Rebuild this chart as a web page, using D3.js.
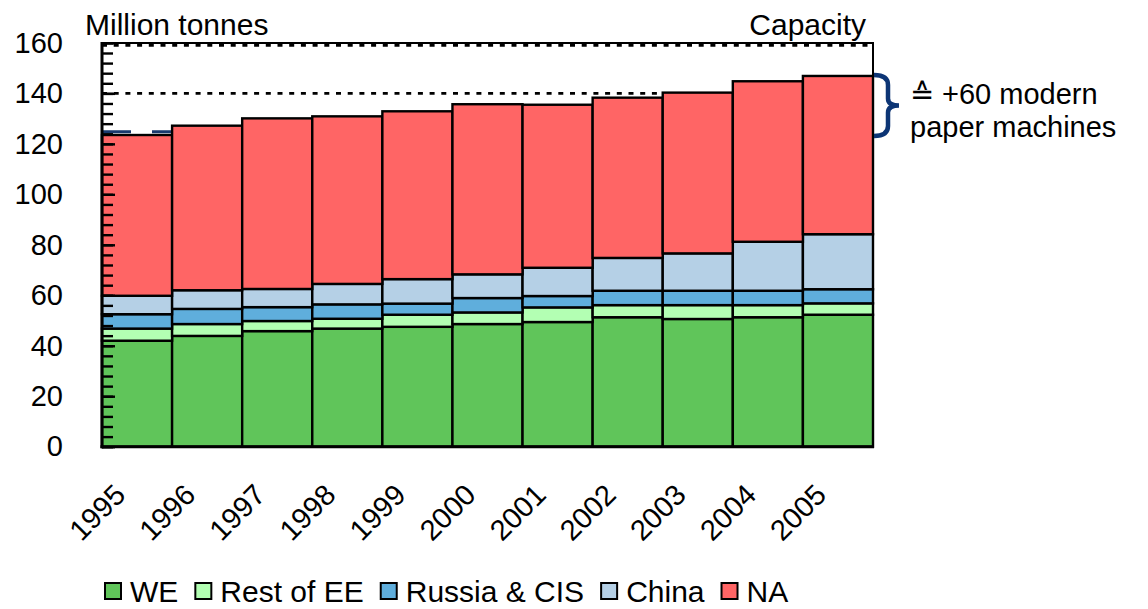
<!DOCTYPE html>
<html>
<head>
<meta charset="utf-8">
<script src="https://cdn.jsdelivr.net/npm/d3@7"></script>
<style>
  html, body { margin: 0; padding: 0; background: #fff; }
  svg { display: block; font-family: "Liberation Sans", Arial, sans-serif; }
</style>
</head>
<body>
<svg id="chart" width="1148" height="609"></svg>
<script>
// Paper capacity by region, million tonnes
const years = ["1995","1996","1997","1998","1999","2000","2001","2002","2003","2004","2005"];
const regions = ["WE", "Rest of EE", "Russia & CIS", "China", "NA"];
const WE        = [42.0, 43.9, 45.8, 46.8, 47.5, 48.6, 49.4, 51.3, 50.6, 51.3, 52.3];
const restOfEE  = [ 4.8,  4.7,  4.0,  3.9,  4.8,  4.6,  5.8,  4.8,  5.5,  4.8,  4.5];
const russiaCIS = [ 5.7,  6.0,  5.5,  5.7,  4.4,  5.7,  4.5,  5.7,  5.7,  5.7,  5.6];
const china     = [ 7.3,  7.4,  7.2,  8.1,  9.7,  9.4, 11.2, 13.0, 14.8, 19.4, 21.8];
const NA        = [63.7, 65.2, 67.6, 66.4, 66.5, 67.4, 64.6, 63.5, 63.7, 63.6, 62.7];
const yTicks = [0, 20, 40, 60, 80, 100, 120, 140, 160];
const capacityLine1995 = 124.8;
const annotationLines = ["\u2259 +60 modern", "paper machines"];

const colors = ["#60c55a", "#b3ffb3", "#5faedc", "#b5d0e6", "#ff6565"];

const rows = years.map((yr, i) => ({
  year: yr,
  "WE": WE[i], "Rest of EE": restOfEE[i], "Russia & CIS": russiaCIS[i],
  "China": china[i], "NA": NA[i]
}));

const svg = d3.select("#chart");
const plotLeft = 102, plotRight = 873, plotTop = 42.9, plotBottom = 446.7;

const x = d3.scaleBand().domain(years).range([plotLeft, plotRight]).padding(0);
const y = d3.scaleLinear().domain([0, 160]).range([plotBottom, plotTop]);
const color = d3.scaleOrdinal().domain(regions).range(colors);

// dotted gridlines (hidden behind the bars except at the top)
svg.append("g").selectAll("line")
  .data(yTicks.filter(d => d > 0))
  .join("line")
  .attr("x1", plotLeft).attr("x2", plotRight)
  .attr("y1", d => y(d) + (d === 160 ? 2.5 : 0))
  .attr("y2", d => y(d) + (d === 160 ? 2.5 : 0))
  .attr("stroke", "#000").attr("stroke-width", 2.7)
  .attr("stroke-dasharray", "5 6.7");

// 1995 capacity reference line
svg.append("line")
  .attr("x1", plotLeft).attr("x2", plotRight)
  .attr("y1", y(capacityLine1995)).attr("y2", y(capacityLine1995))
  .attr("stroke", "#1a3a6e").attr("stroke-width", 3)
  .attr("stroke-dasharray", "29 21");

// stacked bars
const stacked = d3.stack().keys(regions)(rows);
svg.append("g").selectAll("g")
  .data(stacked)
  .join("g")
  .attr("fill", d => color(d.key))
  .selectAll("rect")
  .data(d => d)
  .join("rect")
  .attr("x", d => x(d.data.year))
  .attr("width", x.bandwidth())
  .attr("y", d => y(d[1]))
  .attr("height", d => y(d[0]) - y(d[1]))
  .attr("stroke", "#000")
  .attr("stroke-width", 2.4);

// frame
svg.append("path")
  .attr("d", `M${plotLeft},${plotTop}H${plotRight}V${plotBottom}`)
  .attr("fill", "none").attr("stroke", "#000").attr("stroke-width", 2);

// y axis: minor ticks, then major ticks with labels
const minorTicks = d3.range(0, 161, 4);
svg.append("g")
  .attr("transform", `translate(${plotLeft},0)`)
  .call(d3.axisLeft(y).tickValues(minorTicks).tickSize(-11).tickFormat(""))
  .call(g => g.select(".domain").remove())
  .call(g => g.selectAll("line").attr("stroke-width", 2.4));

const yAxis = svg.append("g")
  .attr("transform", `translate(${plotLeft},0)`)
  .call(d3.axisLeft(y).tickValues(yTicks).tickSize(-13).tickPadding(39).tickFormat(d3.format("d")));
yAxis.select(".domain").remove();
yAxis.selectAll("line").attr("stroke-width", 2.4);
yAxis.selectAll("text")
  .attr("font-size", 29)
  .attr("font-family", "Liberation Sans, Arial, sans-serif")
  .attr("fill", "#000");

// axis lines
svg.append("line").attr("x1", plotLeft).attr("x2", plotLeft).attr("y1", plotTop - 1).attr("y2", plotBottom + 1.5)
  .attr("stroke", "#000").attr("stroke-width", 3);
svg.append("line").attr("x1", plotLeft - 1.5).attr("x2", plotRight + 1).attr("y1", plotBottom).attr("y2", plotBottom)
  .attr("stroke", "#000").attr("stroke-width", 3);

// x labels, rotated
svg.append("g").selectAll("text")
  .data(years)
  .join("text")
  .attr("transform", d => `translate(${x(d) + x.bandwidth() / 2 - 10},${plotBottom + 50}) rotate(-45)`)
  .attr("text-anchor", "end")
  .attr("font-size", 29)
  .text(d => d);

// titles
svg.append("text").attr("x", 85).attr("y", 35).attr("font-size", 30).text("Million tonnes");
svg.append("text").attr("x", 866).attr("y", 35).attr("text-anchor", "end").attr("font-size", 30).text("Capacity");

// brace from 1995 capacity to 2005 capacity
const total = i => WE[i] + restOfEE[i] + russiaCIS[i] + china[i] + NA[i];
const bTop = y(total(years.length - 1)) - 1, bBot = y(total(0)) + 1;
const bMid = (bTop + bBot) / 2;
const bx0 = plotRight + 1, bx1 = plotRight + 15, bx2 = plotRight + 26;
svg.append("path")
  .attr("d", `M${bx0},${bTop} Q${bx1},${bTop} ${bx1},${bTop + 10} L${bx1},${bMid - 7} Q${bx1},${bMid} ${bx2},${bMid}
              Q${bx1},${bMid} ${bx1},${bMid + 7} L${bx1},${bBot - 10} Q${bx1},${bBot} ${bx0},${bBot}`)
  .attr("fill", "none").attr("stroke", "#0d3575").attr("stroke-width", 4.5);

svg.append("g").selectAll("text")
  .data(annotationLines)
  .join("text")
  .attr("x", 910)
  .attr("y", (d, i) => 104 + i * 33)
  .attr("font-size", 29)
  .text(d => d);

// legend
const legend = svg.append("g").attr("transform", "translate(104,0)");
let lx = 0;
regions.forEach((r, i) => {
  legend.append("rect")
    .attr("x", lx + 1).attr("y", 583).attr("width", 16).attr("height", 16)
    .attr("fill", colors[i]).attr("stroke", "#000").attr("stroke-width", 2);
  const t = legend.append("text")
    .attr("x", lx + 26).attr("y", 602)
    .attr("font-size", 30)
    .text(r);
  lx += 26 + t.node().getComputedTextLength() + 16;
});
</script>
</body>
</html>
